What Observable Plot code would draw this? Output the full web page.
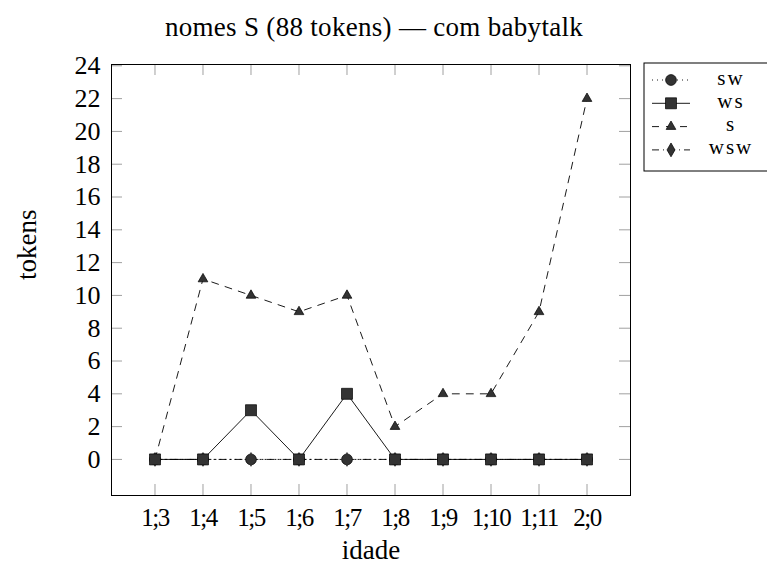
<!DOCTYPE html>
<html><head><meta charset="utf-8">
<script src="https://cdn.jsdelivr.net/npm/d3@7"></script>
<script src="https://cdn.jsdelivr.net/npm/@observablehq/plot@0.6"></script>
<style>
body{margin:0;background:#fff}
#chart svg{font-family:"Liberation Serif",serif;overflow:hidden}
#chart svg text{font-family:"Liberation Serif",serif}
</style>
</head><body><div id="chart"></div>
<script>
const title = "nomes S (88 tokens) — com babytalk";
const ages = ["1;3","1;4","1;5","1;6","1;7","1;8","1;9","1;10","1;11","2;0"];
const sw  = [0,0,0,0,0,0,0,0,0,0];
const ws  = [0,0,3,0,4,0,0,0,0,0];
const s   = [0,11,10,9,10,2,4,4,9,22];
const wsw = [0,0,0,0,0,0,0,0,0,0];
const yTicks = [0,2,4,6,8,10,12,14,16,18,20,22,24];
const xLabel = "idade", yLabel = "tokens";

const series = [
  {name:"sw",  values:sw,  symbol:"circle",   r:5.4, dash:"1,4"},
  {name:"ws",  values:ws,  symbol:"square",   r:6.2, dash:null},
  {name:"s",   values:s,   symbol:"triangle", r:3.6, dash:"7,7"},
  {name:"wsw", values:wsw, symbol:"diamond",  r:4.2, dash:"7,4,1,4"}
];
const idx = ages.map((a,i)=>i);
const rows = series.map(se => idx.map(i => ({i, v: se.values[i], name: se.name})));

const W = 767, H = 567, mL = 111, mR = 137, mT = 64, mB = 72;
const fw = W - mL - mR, fh = H - mT - mB;
const tickLen = 11, tickColor = "#a0a0a0", markFill = "#333";

const lineMarks = series.map((se,k) => Plot.line(rows[k], {x:"i", y:"v", stroke:"black", strokeWidth:0.9, strokeDasharray: se.dash}));
const drawOrder = [0,3,2,1];
const dotMarks = drawOrder.map(k => Plot.dot(rows[k], {x:"i", y:"v", symbol: series[k].symbol, r: series[k].r, fill: markFill, stroke: k===3 ? markFill : "black", strokeWidth:0.7}));

const chart = Plot.plot({
  width: W, height: H,
  marginLeft: mL, marginRight: mR, marginTop: mT, marginBottom: mB,
  style: {fontFamily: "Liberation Serif, serif", background: "white"},
  x: {type:"linear", domain:[-0.906, 9.906]},
  y: {type:"linear", domain:[-2.2, 24.08]},
  marks: [
    Plot.tickX(idx, {x: d=>d, stroke: tickColor, insetTop: fh - tickLen}),
    Plot.tickX(idx, {x: d=>d, stroke: tickColor, insetBottom: fh - tickLen}),
    Plot.tickY(yTicks, {y: d=>d, stroke: tickColor, insetRight: fw - tickLen}),
    Plot.tickY(yTicks, {y: d=>d, stroke: tickColor, insetLeft: fw - tickLen}),
    Plot.axisX(idx, {tickSize:0, tickPadding:13, tickFormat: i => ages[i], fontSize:25, label:null}),
    Plot.axisY(yTicks, {tickSize:0, tickPadding:11, fontSize:26, label:null}),
    ...lineMarks,
    ...dotMarks,
    Plot.frame({stroke:"black", strokeWidth:1}),
    Plot.text([title], {text: d=>d, frameAnchor:"top", dx:3, dy:-37, fontSize:27, lineAnchor:"middle"}),
    Plot.text([xLabel], {text: d=>d, frameAnchor:"bottom", dy:55, fontSize:27, lineAnchor:"middle"}),
    Plot.text([yLabel], {text: d=>d, frameAnchor:"left", dx:-84, rotate:-90, fontSize:27, lineAnchor:"middle"})
  ]
});
document.getElementById("chart").appendChild(chart);

const svg = d3.select(chart);
svg.selectAll('[aria-label="x-axis tick label"] text').attr("letter-spacing", "-1.5");
svg.selectAll("text").filter(function(){ return this.textContent === title; }).attr("letter-spacing", "0.3");

// legend
const lg = svg.append("g").attr("class","legend");
const lx = 644, ly = 63, lw = 126, lh = 108;
lg.append("rect").attr("x", lx).attr("y", ly).attr("width", lw).attr("height", lh)
  .attr("fill", "white").attr("stroke", "black").attr("stroke-width", 1);
const symMap = {circle: d3.symbolCircle, square: d3.symbolSquare, triangle: d3.symbolTriangle, diamond: d3.symbolDiamond};
series.forEach((se, k) => {
  const yy = 80 + k * 23.3;
  lg.append("line").attr("x1", 652).attr("x2", 690).attr("y1", yy).attr("y2", yy)
    .attr("stroke", "black").attr("stroke-width", 0.9).attr("stroke-dasharray", se.dash);
  lg.append("path").attr("d", d3.symbol(symMap[se.symbol], Math.PI * se.r * se.r)())
    .attr("transform", `translate(671,${yy})`).attr("fill", markFill).attr("stroke", "black").attr("stroke-width", 0.7);
  lg.append("text").attr("x", 731).attr("y", yy + 4.5).attr("text-anchor", "middle")
    .attr("font-size", 21).attr("letter-spacing", 2).attr("font-family", "Liberation Serif, serif").text(se.name);
});
</script>
</body></html>
